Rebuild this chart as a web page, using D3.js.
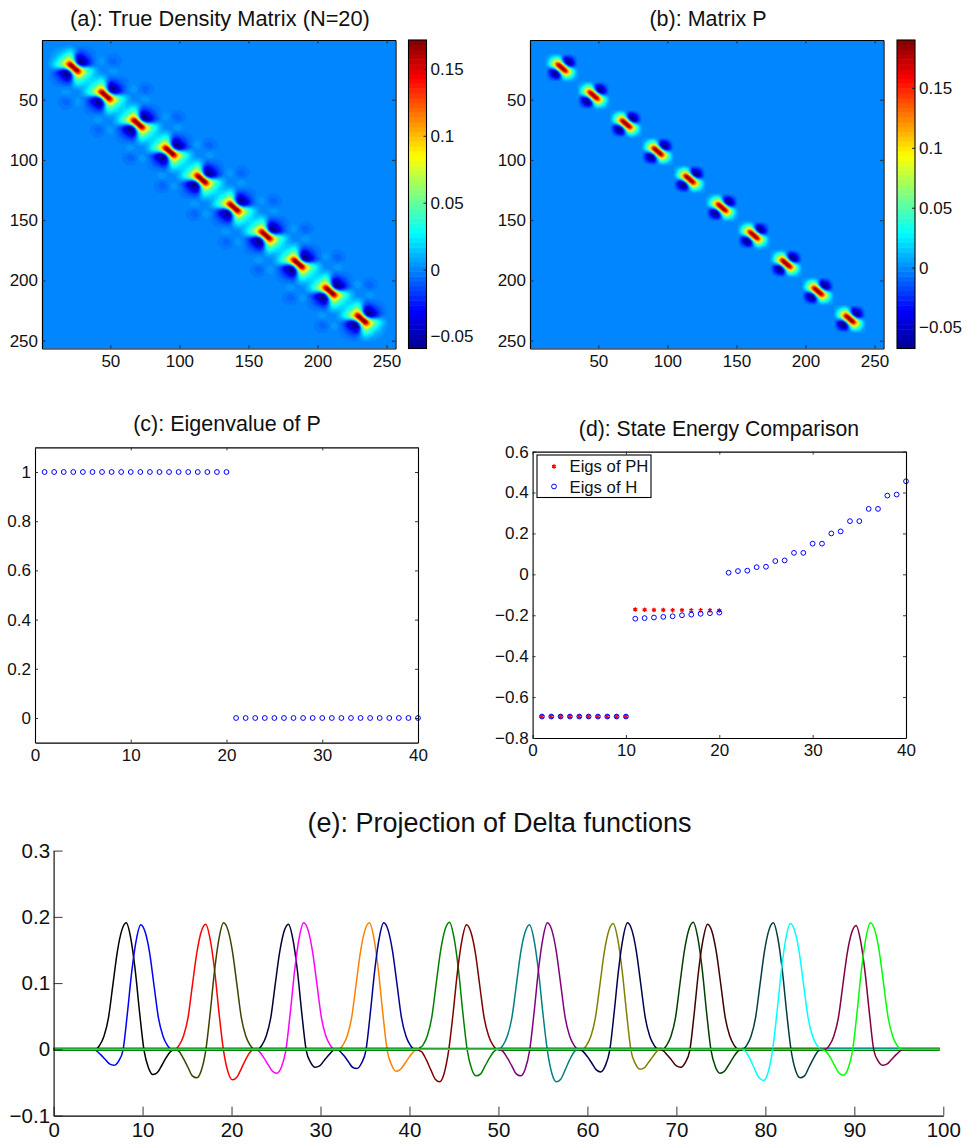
<!DOCTYPE html>
<html><head><meta charset="utf-8">
<script src="https://cdn.jsdelivr.net/npm/d3@7"></script>
<style>html,body{margin:0;padding:0;background:#fff}svg{display:block}text{font-family:"Liberation Sans",Arial,sans-serif;fill:#111}</style>
</head><body><div id="chart"></div>
<script>
// ---------- data ----------
const imageTicks = [50,100,150,200,250];
const wellCentres = [23.5,46.5,70,93,116,139.5,162.5,186,209,232];
// orbital profiles of one well (offset from well centre, matrix cells)
const offsetsA = [0,1,2,3,4,5,6,7,8,10,12,14,16,18,20,23,26,29,32,35,38];
const evenA    = [.415,.40,.35,.28,.20,.135,.09,.06,.045,.035,.03,.024,.014,.005,0,0,.002,.002,.001,0,0];
const oddA     = [0,.13,.23,.29,.305,.285,.255,.22,.185,.13,.085,.05,.025,.008,0,0,.008,.016,.008,0,0];
const offsetsB = [0,1,2,3,4,5,6,7,8,9,10,11,12,40];
const evenB    = [.435,.41,.36,.27,.18,.10,.05,.025,.01,.004,0,0,0,0];
const oddB     = [0,.13,.24,.31,.31,.28,.24,.19,.14,.09,.05,.02,0,0];
const cbarA = {lo:-.059, hi:.1716, ticks:[-.05,0,.05,.1,.15]};
const cbarB = {lo:-.0675, hi:.19, ticks:[-.05,0,.05,.1,.15]};
const jetStops = [0,.125,.375,.625,.875,1];
const jetColors = ["#000090","#0000ff","#00ffff","#ffff00","#ff0000","#800000"];

const eigIndex = d3.range(1,41);
const eigP = [1,1,1,1,1,1,1,1,1,1,1,1,1,1,1,1,1,1,1,1,0,0,0,0,0,0,0,0,0,0,0,0,0,0,0,0,0,0,0,0];
const eigH = [-.695,-.695,-.695,-.695,-.695,-.695,-.695,-.695,-.695,-.695,-.217,-.214,-.211,-.208,-.205,-.2,-.197,-.193,-.19,-.187,
  .008,.016,.018,.035,.037,.065,.068,.105,.105,.15,.15,.2,.21,.26,.26,.32,.32,.385,.39,.455];
const eigPHIndex = d3.range(1,21);
const eigPH = [-.695,-.695,-.695,-.695,-.695,-.695,-.695,-.695,-.695,-.695,-.172,-.173,-.174,-.174,-.175,-.175,-.176,-.176,-.176,-.177];
const legendLabels = ["Eigs of PH","Eigs of H"];

const deltaOffsets = [-3.5,-3,-2.5,-2,-1.5,-1,-.5,0,.5,1,1.5,2,2.5,3,3.5,4,4.5,5,5.5];
const deltaPeaks = [8.17,9.79,17.1,19.1,26.4,28.1,35.5,37.1,44.5,46.4,53.5,55.5,62.9,64.5,71.9,73.5,80.9,82.8,90.2,91.8];
const deltaSides = [1,-1,1,-1,1,-1,1,-1,1,-1,1,-1,1,-1,1,-1,1,-1,1,-1];
const deltaColors = ["#000000","#0000ff","#ff0000","#404000","#000033","#ff00ff","#ff8000","#000090","#008000","#800000",
  "#008080","#800080","#808000","#000050","#004000","#400000","#004040","#00ffff","#800040","#00ff00"];
const deltaFlat = [0,0,0,0,0,0,0,0,-.0012,.0012,0,0,0,0,.0012,0,0,0,0,0];
const deltaCurves = [
 [0,.006,.02,.048,.098,.148,.18,.191,.168,.12,.055,-.002,-.028,-.038,-.035,-.024,-.012,-.003,0],
 [0,.006,.02,.047,.096,.146,.177,.188,.165,.118,.054,-.002,-.018,-.024,-.022,-.015,-.008,-.002,0],
 [0,.006,.02,.047,.097,.146,.178,.189,.166,.119,.054,-.002,-.034,-.046,-.042,-.029,-.015,-.004,0],
 [0,.006,.02,.048,.098,.148,.18,.191,.168,.12,.055,-.002,-.032,-.043,-.04,-.027,-.014,-.003,0],
 [0,.006,.02,.047,.097,.146,.178,.189,.166,.119,.054,-.002,-.02,-.027,-.025,-.017,-.009,-.002,0],
 [0,.006,.02,.048,.098,.148,.18,.191,.168,.12,.055,-.002,-.027,-.036,-.033,-.023,-.012,-.003,0],
 [0,.006,.02,.048,.098,.148,.18,.191,.168,.12,.055,-.002,-.024,-.033,-.03,-.021,-.011,-.003,0],
 [0,.006,.02,.048,.098,.148,.18,.191,.168,.12,.055,-.002,-.021,-.029,-.027,-.018,-.009,-.002,0],
 [0,.006,.02,.048,.099,.149,.181,.192,.169,.121,.055,-.002,-.03,-.04,-.037,-.025,-.013,-.003,0],
 [0,.006,.02,.047,.096,.146,.177,.188,.165,.118,.054,-.002,-.036,-.049,-.045,-.031,-.016,-.004,0],
 [0,.006,.02,.047,.096,.146,.177,.188,.165,.118,.054,-.002,-.036,-.049,-.045,-.031,-.016,-.004,0],
 [0,.006,.02,.048,.098,.148,.18,.191,.168,.12,.055,-.002,-.03,-.04,-.037,-.025,-.013,-.003,0],
 [0,.006,.02,.048,.097,.147,.179,.19,.167,.119,.055,-.002,-.022,-.03,-.028,-.019,-.01,-.002,0],
 [0,.006,.02,.048,.098,.148,.18,.191,.168,.12,.055,-.002,-.025,-.034,-.031,-.021,-.011,-.003,0],
 [0,.006,.02,.048,.099,.149,.181,.192,.169,.121,.055,-.002,-.027,-.036,-.033,-.023,-.012,-.003,0],
 [0,.006,.02,.047,.097,.146,.178,.189,.166,.119,.054,-.002,-.02,-.027,-.025,-.017,-.009,-.002,0],
 [0,.006,.02,.048,.098,.148,.18,.191,.168,.12,.055,-.002,-.032,-.043,-.04,-.027,-.014,-.003,0],
 [0,.006,.02,.048,.097,.147,.179,.19,.167,.119,.055,-.002,-.035,-.047,-.043,-.03,-.015,-.004,0],
 [0,.006,.02,.047,.096,.145,.176,.187,.164,.117,.054,-.002,-.018,-.024,-.022,-.015,-.008,-.002,0],
 [0,.006,.02,.048,.098,.148,.18,.191,.168,.12,.055,-.002,-.029,-.039,-.036,-.025,-.012,-.003,0]
];
const deltaXTicks = [0,10,20,30,40,50,60,70,80,90,100];
const deltaYTicks = [-.1,0,.1,.2,.3];

// ---------- helpers ----------
const W = 967, H = 1144;
const svg = d3.select("#chart").append("svg").attr("width",W).attr("height",H);
const fmt = v => String(+v.toFixed(2)).replace("-","\u2212");

function frame(g, x, y, o){
  const [x0,x1]=x.range();
  const y0=Math.min(...y.range()), y1=Math.max(...y.range());
  const styled = s => { s.selectAll("path.domain").attr("stroke","#000").attr("stroke-width",o.sw||1.1).attr("fill","none");
    s.selectAll(".tick line").attr("stroke","#222").attr("stroke-width",.9);
    s.selectAll("text").attr("font-size",o.fs).attr("fill","#111"); };
  g.append("g").attr("transform",`translate(0,${y1})`)
    .call(d3.axisBottom(x).tickValues(o.xt).tickFormat(fmt).tickSize(-(o.tl||3)).tickSizeOuter(0).tickPadding(o.xpad)).call(styled);
  g.append("g").attr("transform",`translate(${x0},0)`)
    .call(d3.axisLeft(y).tickValues(o.yt).tickFormat(fmt).tickSize(-(o.tl||3)).tickSizeOuter(0).tickPadding(o.ypad)).call(styled);
  if(o.box!==false){
    g.append("g").attr("transform",`translate(0,${y0})`)
      .call(d3.axisTop(x).tickValues(o.xt).tickFormat("").tickSize(-(o.tl||3)).tickSizeOuter(0)).call(styled);
    g.append("g").attr("transform",`translate(${x1},0)`)
      .call(d3.axisRight(y).tickValues(o.yt).tickFormat("").tickSize(-(o.tl||3)).tickSizeOuter(0)).call(styled);
  }
}
function title(t,x,y,fs){ svg.append("text").attr("x",x).attr("y",y).attr("text-anchor","middle").attr("font-size",fs).text(t); }

const jet = d3.scaleLinear().domain(jetStops).range(jetColors).clamp(true);
const jet64 = d3.range(64).map(i => jet((i+.5)/64));

function heatPanel(cfg){
  const g = svg.append("g");
  const x = d3.scaleLinear([.5,256.5],[cfg.left,cfg.left+353.5]);
  const y = d3.scaleLinear([.5,256.5],[40,348.5]);
  const prA = d3.scaleLinear(cfg.offs,cfg.even).clamp(true);
  const prB = d3.scaleLinear(cfg.offs,cfg.odd).clamp(true);
  const evenAt = d => prA(Math.abs(d));
  const oddAt = d => (d<0?-1:1)*prB(Math.abs(d));
  const cv = document.createElement("canvas"); cv.width=256; cv.height=256;
  const ctx = cv.getContext("2d");
  const col = d3.scaleQuantize().domain([cfg.cb.lo,cfg.cb.hi]).range(jet64);
  for(let r=1;r<=256;r++) for(let c=1;c<=256;c++){
    let v=0;
    for(const w of wellCentres) v += evenAt(r-w)*evenAt(c-w)+oddAt(r-w)*oddAt(c-w);
    ctx.fillStyle = col(Math.max(cfg.cb.lo,Math.min(cfg.cb.hi,v)));
    ctx.fillRect(c-1,r-1,1,1);
  }
  g.append("image").attr("href",cv.toDataURL()).attr("x",x(.5)).attr("y",y(.5))
    .attr("width",x(256.5)-x(.5)).attr("height",y(256.5)-y(.5)).attr("preserveAspectRatio","none");
  frame(g,x,y,{xt:imageTicks,yt:imageTicks,fs:17,xpad:6.5,ypad:4,tl:3.5,sw:1.2});
  // colour bar
  const cbG = svg.append("g");
  const cy = d3.scaleLinear([cfg.cb.lo,cfg.cb.hi],[348.5,40]);
  const cx = d3.scaleLinear([0,1],[cfg.cbLeft,cfg.cbLeft+18]);
  const levels = d3.range(64);
  const lv = i => cfg.cb.lo+(cfg.cb.hi-cfg.cb.lo)*i/64;
  cbG.selectAll("rect").data(levels).join("rect")
    .attr("x",cx(0)).attr("width",cx(1)-cx(0))
    .attr("y",i=>cy(lv(i+1))).attr("height",i=>cy(lv(i))-cy(lv(i+1))+.5).attr("fill",i=>jet64[i]);
  const ax = g=>{ g.call(d3.axisRight(cy).tickValues(cfg.cb.ticks).tickFormat(fmt).tickSize(-3).tickPadding(4));
    g.selectAll("text").attr("font-size",17).attr("fill","#111"); g.selectAll(".tick line").attr("stroke","#222");
    g.select("path.domain").remove(); };
  cbG.append("g").attr("transform",`translate(${cx(1)},0)`).call(ax);
  cbG.append("rect").attr("x",cx(0)).attr("y",40).attr("width",18).attr("height",308.5).attr("fill","none").attr("stroke","#000").attr("stroke-width",1.1);
}

heatPanel({left:42,cbLeft:408.5,offs:offsetsA,even:evenA,odd:oddA,cb:cbarA});
heatPanel({left:530,cbLeft:897,offs:offsetsB,even:evenB,odd:oddB,cb:cbarB});
title("(a): True Density Matrix (N=20)",220,26,21.8);
title("(b): Matrix P",708,26,21.5);

// (c)
{
  const g = svg.append("g");
  const x = d3.scaleLinear([0,40],[35,418]);
  const y = d3.scaleLinear([-.1,1.1],[742.6,447.4]);
  g.selectAll("circle").data(eigIndex).join("circle")
    .attr("cx",d=>x(d)).attr("cy",(d,i)=>y(eigP[i])).attr("r",2.4)
    .attr("fill","none").attr("stroke","#0000ff").attr("stroke-width",1);
  frame(g,x,y,{xt:[0,10,20,30,40],yt:[0,.2,.4,.6,.8,1],fs:17,xpad:6,ypad:4});
  title("(c): Eigenvalue of P",227,431,21.5);
}
// (d)
{
  const g = svg.append("g");
  const x = d3.scaleLinear([0,40],[532.6,906]);
  const y = d3.scaleLinear([-.8,.6],[738,451.6]);
  const star = d3.symbol(d3.symbolAsterisk,14);
  g.selectAll("path.ph").data(eigPHIndex).join("path").attr("class","ph").attr("d",star)
    .attr("transform",(d,i)=>`translate(${x(d)},${y(eigPH[i])})`)
    .attr("stroke","#ff0000").attr("stroke-width",1.3).attr("fill","none");
  g.selectAll("circle").data(eigIndex).join("circle")
    .attr("cx",d=>x(d)).attr("cy",(d,i)=>y(eigH[i])).attr("r",2.4)
    .attr("fill","none").attr("stroke","#0000ff").attr("stroke-width",1);
  frame(g,x,y,{xt:[0,10,20,30,40],yt:[-.8,-.6,-.4,-.2,0,.2,.4,.6],fs:17,xpad:6,ypad:4});
  title("(d): State Energy Comparison",719,436,21.2);
  const lg = g.append("g");
  lg.append("rect").attr("x",537).attr("y",455).attr("width",114).attr("height",42.5).attr("fill","#fff").attr("stroke","#000").attr("stroke-width",1.1);
  lg.append("path").attr("d",star).attr("transform","translate(554,466.5)").attr("stroke","#ff0000").attr("stroke-width",1.3).attr("fill","none");
  lg.append("circle").attr("cx",554).attr("cy",486.5).attr("r",2.4).attr("fill","none").attr("stroke","#0000ff").attr("stroke-width",1);
  lg.selectAll("text").data(legendLabels).join("text").attr("x",569.5).attr("y",(d,i)=>472+i*20.8).attr("font-size",16.7).text(d=>d);
}
// (e)
{
  const g = svg.append("g");
  const x = d3.scaleLinear([0,100],[53.6,943.3]);
  const y = d3.scaleLinear([-.1,.3],[1115.6,850.6]);
  const line = d3.line().x(d=>x(d[0])).y(d=>y(d[1])).curve(d3.curveMonotoneX);
  const rows = deltaCurves.map((vals,i)=>{
    const pts = deltaOffsets.map((o,j)=>[deltaPeaks[i]+deltaSides[i]*o, vals[j]]);
    pts.sort((a,b)=>a[0]-b[0]);
    return [[0,deltaFlat[i]],[pts[0][0]-.01,deltaFlat[i]],...pts,[pts[pts.length-1][0]+.01,deltaFlat[i]],[99.6,deltaFlat[i]]];
  });
  g.selectAll("path.curve").data(rows).join("path").attr("class","curve")
    .attr("d",line).attr("fill","none").attr("stroke",(d,i)=>deltaColors[i]).attr("stroke-width",1.5).attr("stroke-linejoin","round");
  frame(g,x,y,{xt:deltaXTicks,yt:deltaYTicks,fs:20.5,xpad:7,ypad:3.5,tl:9,box:false});
  title("(e): Projection of Delta functions",499.5,832,27);
}
</script></body></html>
